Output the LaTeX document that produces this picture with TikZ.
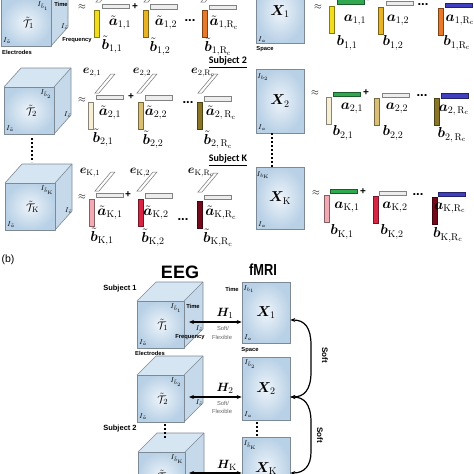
\documentclass[tikz,border=0pt]{standalone}
\usepackage{amsmath}
\usepackage{bm}
\usepackage{fontspec}
\newfontfamily\arial{Liberation Sans}
\newfontfamily\arialn[FakeStretch=0.8]{Liberation Sans}
\newfontfamily\calib{Carlito}
\usetikzlibrary{arrows.meta}
\definecolor{cin}{HTML}{EEF4FA}
\definecolor{cout}{HTML}{B9D1E6}
\definecolor{cside}{HTML}{C6D9EA}
\definecolor{ctop}{HTML}{D6E5F2}
\definecolor{cedge}{HTML}{7D8A96}
\definecolor{barw}{HTML}{EDEDED}
\definecolor{cy}{HTML}{F2DC1E}
\definecolor{cgold}{HTML}{E6B426}
\definecolor{corange}{HTML}{E8782A}
\definecolor{cgreen}{HTML}{2FA84F}
\definecolor{cblue}{HTML}{3F3FBF}
\definecolor{ccream}{HTML}{F6EFD6}
\definecolor{clgold}{HTML}{D9C074}
\definecolor{colive}{HTML}{8A7426}
\definecolor{cpink}{HTML}{F2AAB4}
\definecolor{ccrimson}{HTML}{D92544}
\definecolor{cmaroon}{HTML}{720A1C}
\tikzset{
  lbl/.style={inner sep=0pt, font=\fontsize{14}{14}\selectfont},
  elbl/.style={inner sep=0pt, font=\fontsize{12}{12}\selectfont},
  ilbl/.style={inner sep=0pt, font=\fontsize{7}{7}\selectfont},
  tlbl/.style={inner sep=0pt, font=\fontsize{11}{11}\selectfont},
  smlbl/.style={inner sep=0pt, font=\arial\bfseries\fontsize{5.8}{6}\selectfont},
  softlbl/.style={inner sep=0pt, font=\arial\fontsize{5.8}{6}\selectfont, text=black!60},
  subjlbl/.style={inner sep=0pt, font=\calib\bfseries\fontsize{10}{10}\selectfont},
  subjb/.style={inner sep=0pt, font=\arial\bfseries\fontsize{7.5}{8}\selectfont},
  approx/.style={inner sep=0pt, font=\fontsize{10}{10}\selectfont},
  plus/.style={inner sep=0pt, font=\arial\bfseries\fontsize{10}{10}\selectfont},
  dots/.style={inner sep=0pt, font=\arial\bfseries\fontsize{13}{13}\selectfont},
  cubeedge/.style={draw=cedge, line width=0.6pt, line join=round},
  matbox/.style={draw=cedge, line width=0.6pt, inner color=cin, outer color=cout,
    minimum width=48pt, inner sep=0pt, font=\fontsize{14}{14}\selectfont},
  dotline/.style={line width=2pt, dash pattern=on 2pt off 2pt},
  harrow/.style={line width=1.1pt, {Stealth[length=5pt,width=4pt]}-{Stealth[length=5pt,width=4pt]}},
  bracearrow/.style={line width=1.2pt, {Stealth[length=5pt,width=4pt]}-{Stealth[length=5pt,width=4pt]}},
}
% cube: #1 x, #2 y of front top-left, #3 width, #4 depth dx, #5 index
\newcommand\eegcube[5]{%
  \fill[ctop] (#1,#2) -- ++(#4,-19) -- ++(#3,0) -- ++(-#4,19) -- cycle;
  \fill[cside] ({#1+#3},#2) -- ++(#4,-19) -- ++(0,47) -- ++(-#4,19) -- cycle;
  \shade[inner color=cin, outer color=cout] (#1,#2) rectangle ++(#3,47);
  \draw[cubeedge] (#1,#2) rectangle ++(#3,47);
  \draw[cubeedge] (#1,#2) -- ++(#4,-19) -- ++(#3,0) -- ++(0,47) -- ++(-#4,19);
  \draw[cubeedge] ({#1+#3},#2) -- ++(#4,-19);
  \node[ilbl] at ({#1+#3-8},{#2+7}) {$I_{\tilde{b}_{#5}}$};
  \node[tlbl] at ({#1+#3*0.55},{#2+24}) {$\tilde{\mathcal{T}}_{#5}$};
  \node[ilbl] at ({#1+#3+#4*0.8},{#2+28}) {$I_{\tilde{c}}$};
  \node[ilbl, anchor=west] at ({#1+2},{#2+42}) {$I_{\tilde{a}}$};
}
\newcommand\hbarr[3]{\filldraw[fill=#3, draw=#3!55!black, line width=0.5pt] (#1,#2) rectangle ++(27,4.5);}
\newcommand\vbarr[3]{\filldraw[fill=#3, draw=#3!55!black, line width=0.5pt] (#1,#2) rectangle ++(5,27);}
\newcommand\ebarr[2]{\filldraw[fill=white, draw=black!55, line width=0.5pt] (#1,#2) -- ++(4,0) -- ++(16,-19) -- ++(-4,0) -- cycle;}
\begin{document}
\begin{tikzpicture}[x=1pt,y=-1pt]
\useasboundingbox (0,0) rectangle (474,474);
\clip (0,0) rectangle (474,474);
\fill[white] (0,0) rectangle (474,474);

% ================= (a) =================
% cubes
\eegcube{1}{-1}{50}{17}{1}
\eegcube{4}{87}{50}{17}{2}
\eegcube{5}{183}{50}{17}{\mathrm{K}}
\node[smlbl] at (61,4) {Time};
\node[smlbl] at (77,40) {Frequency};
\node[smlbl] at (17,52) {Electrodes};
\draw[dotline] (32,138) -- (32,162);

% row 1 left
\node[approx] at (82,7) {$\approx$};
\ebarr{96}{2} \ebarr{144}{2} \ebarr{201}{2}
\hbarr{102}{4}{barw} \vbarr{94}{10}{cy}
\hbarr{150}{4.5}{barw} \vbarr{143}{10}{cgold}
\hbarr{209}{5}{barw} \vbarr{202}{10}{corange}
\node[plus] at (135,7) {+};
\node[dots] at (190,21) {...};
\node[lbl] at (120,23) {$\tilde{\bm{a}}_{1,1}$};
\node[lbl] at (166,23) {$\tilde{\bm{a}}_{1,2}$};
\node[lbl] at (224,23) {$\tilde{\bm{a}}_{1,\mathrm{R_c}}$};
\node[lbl] at (112,45) {$\tilde{\bm{b}}_{1,1}$};
\node[lbl] at (160,47) {$\tilde{\bm{b}}_{1,2}$};
\node[lbl] at (218,47) {$\tilde{\bm{b}}_{1,\mathrm{R_c}}$};

% row 1 right
\node[matbox, minimum height=63pt] (X1) at (280,11.5) {$\bm{X}_1$};
\node[ilbl, anchor=west] at (258,40) {$I_{a}$};
\node[smlbl] at (265,49) {Space};
\node[approx] at (318,7) {$\approx$};
\hbarr{337}{-0.5}{cgreen} \vbarr{329}{6}{cy}
\hbarr{386}{1}{barw} \vbarr{378}{7}{cgold}
\hbarr{445}{3}{cblue} \vbarr{438}{8}{corange}
\node[plus] at (368,-1) {+};
\node[dots] at (423,5) {...};
\node[lbl] at (355,20) {$\bm{a}_{1,1}$};
\node[lbl] at (398,20) {$\bm{a}_{1,2}$};
\node[lbl] at (460,20) {$\bm{a}_{1,\mathrm{R_c}}$};
\node[lbl] at (347,43) {$\bm{b}_{1,1}$};
\node[lbl] at (393,43) {$\bm{b}_{1,2}$};
\node[lbl] at (457,43) {$\bm{b}_{1,\mathrm{R_c}}$};

\node[subjlbl] at (228,62) {\underline{Subject 2}};

% row 2 left
\node[approx] at (82,100) {$\approx$};
\ebarr{95}{93} \ebarr{137}{93} \ebarr{198}{93}
\node[elbl] at (92,73) {$\bm{e}_{2,1}$};
\node[elbl] at (142,73) {$\bm{e}_{2,2}$};
\node[elbl] at (203,73) {$\bm{e}_{2,\mathrm{R_c}}$};
\hbarr{96}{95}{barw} \vbarr{88}{102}{ccream}
\hbarr{145}{95.5}{barw} \vbarr{138}{102}{clgold}
\hbarr{204}{96.5}{barw} \vbarr{197}{102}{colive}
\node[plus] at (131,97) {+};
\node[dots] at (188,103) {...};
\node[lbl] at (110,113) {$\tilde{\bm{a}}_{2,1}$};
\node[lbl] at (156,113) {$\tilde{\bm{a}}_{2,2}$};
\node[lbl] at (221,113) {$\tilde{\bm{a}}_{2,\,\mathrm{R_c}}$};
\node[lbl] at (103,138) {$\tilde{\bm{b}}_{2,1}$};
\node[lbl] at (153,140) {$\tilde{\bm{b}}_{2,2}$};
\node[lbl] at (218,140) {$\tilde{\bm{b}}_{2,\,\mathrm{R_c}}$};

% row 2 right
\node[matbox, minimum height=64pt] (X2) at (280,101) {$\bm{X}_2$};
\node[ilbl] at (263,77) {$I_{b_2}$};
\node[ilbl, anchor=west] at (258,128) {$I_{a}$};
\draw[dotline] (X2.south -| 272,0) -- (272,167);
\node[approx] at (315,93) {$\approx$};
\hbarr{333}{92}{cgreen} \vbarr{326}{97}{ccream}
\hbarr{382}{93}{barw} \vbarr{374}{98}{clgold}
\hbarr{441}{93.5}{cblue} \vbarr{434}{98}{colive}
\node[plus] at (366,93) {+};
\node[dots] at (422,96) {...};
\node[lbl] at (352,108) {$\bm{a}_{2,1}$};
\node[lbl] at (397,108) {$\bm{a}_{2,2}$};
\node[lbl] at (454,110) {$\bm{a}_{2,\,\mathrm{R_c}}$};
\node[lbl] at (343,133) {$\bm{b}_{2,1}$};
\node[lbl] at (393,133) {$\bm{b}_{2,2}$};
\node[lbl] at (452,135) {$\bm{b}_{2,\,\mathrm{R_c}}$};

\node[subjlbl] at (228,160) {\underline{Subject K}};

% row K left
\node[approx] at (82,197) {$\approx$};
\ebarr{95}{191} \ebarr{137}{191} \ebarr{198}{192}
\node[elbl] at (90,173) {$\bm{e}_{\mathrm{K},1}$};
\node[elbl] at (140,173) {$\bm{e}_{\mathrm{K},2}$};
\node[elbl] at (201,173) {$\bm{e}_{\mathrm{K},\mathrm{R_c}}$};
\hbarr{96}{193}{barw} \vbarr{89}{199}{cpink}
\hbarr{145}{193.5}{barw} \vbarr{138}{199}{ccrimson}
\hbarr{204}{195}{barw} \vbarr{197}{201}{cmaroon}
\node[plus] at (128,195) {+};
\node[dots] at (183,220) {...};
\node[lbl] at (110,213) {$\tilde{\bm{a}}_{\mathrm{K},1}$};
\node[lbl] at (156,213) {$\tilde{\bm{a}}_{\mathrm{K},2}$};
\node[lbl] at (221,213) {$\tilde{\bm{a}}_{\mathrm{K},\mathrm{R_c}}$};
\node[lbl] at (102,237) {$\tilde{\bm{b}}_{\mathrm{K},1}$};
\node[lbl] at (153,238) {$\tilde{\bm{b}}_{\mathrm{K},2}$};
\node[lbl] at (218,238) {$\tilde{\bm{b}}_{\mathrm{K},\mathrm{R_c}}$};

% row K right
\node[matbox, minimum height=62pt] (XK) at (280,198) {$\bm{X}_{\mathrm{K}}$};
\node[ilbl] at (263,175) {$I_{b_{\mathrm{K}}}$};
\node[ilbl, anchor=west] at (258,225) {$I_{a}$};
\node[approx] at (316,193) {$\approx$};
\hbarr{330}{189}{cgreen} \vbarr{324}{195}{cpink}
\hbarr{379}{191}{barw} \vbarr{373}{196}{ccrimson}
\hbarr{438}{192}{cblue} \vbarr{432}{197}{cmaroon}
\node[plus] at (363,192) {+};
\node[dots] at (418,195) {...};
\node[lbl] at (347,207) {$\bm{a}_{\mathrm{K},1}$};
\node[lbl] at (395,207) {$\bm{a}_{\mathrm{K},2}$};
\node[lbl] at (450,208) {$\bm{a}_{\mathrm{K},\mathrm{R_c}}$};
\node[lbl] at (342,232) {$\bm{b}_{\mathrm{K},1}$};
\node[lbl] at (392,232) {$\bm{b}_{\mathrm{K},2}$};
\node[lbl] at (448,235) {$\bm{b}_{\mathrm{K},\mathrm{R_c}}$};

% ================= (b) =================
\node[inner sep=0pt, font=\arial\fontsize{10.5}{11}\selectfont] at (8,260) {(b)};
\node[inner sep=0pt, font=\arial\bfseries\fontsize{18}{18}\selectfont] at (180,272) {EEG};
\node[inner sep=0pt, font=\arialn\bfseries\fontsize{16}{16}\selectfont] at (263,270) {fMRI};
\node[subjb] at (120,289) {Subject 1};
\node[subjb] at (120,429) {Subject 2};

\eegcube{137}{301}{47}{19}{1}
\eegcube{137}{375}{47}{19}{2}
\eegcube{138}{452}{47}{19}{\mathrm{K}}
\node[smlbl] at (193,306) {Time};
\node[smlbl] at (190,337) {Frequency};
\node[smlbl] at (150,353) {Electrodes};
\draw[dotline] (165,424) -- (165,438);

\node[matbox, minimum height=61pt] (X1b) at (266,312.5) {$\bm{X}_1$};
\node[matbox, minimum height=63pt] (X2b) at (266,388.5) {$\bm{X}_2$};
\node[matbox, minimum height=63pt] (XKb) at (266,468.5) {$\bm{X}_{\mathrm{K}}$};
\node[smlbl] at (232,289) {Time};
\node[ilbl] at (249,289) {$I_{b_1}$};
\node[ilbl, anchor=west] at (244,338) {$I_{a}$};
\node[smlbl] at (250,350) {Space};
\node[ilbl] at (250,364) {$I_{\tilde{b}_2}$};
\node[ilbl, anchor=west] at (244,415) {$I_{a}$};
\node[ilbl] at (250,445) {$I_{\tilde{b}_{\mathrm{K}}}$};
\draw[dotline] (257,422) -- (257,437);

\coordinate (h1) at (189,322);
\coordinate (h2) at (189,397);
\coordinate (hK) at (189,473);
\draw[harrow] (h1) -- (h1 -| X1b.west);
\draw[harrow] (h2) -- (h2 -| X2b.west);
\draw[harrow] (hK) -- (hK -| XKb.west);
\node[inner sep=0pt, font=\fontsize{13}{13}\selectfont] at (225,313) {$\bm{H}_1$};
\node[inner sep=0pt, font=\fontsize{13}{13}\selectfont] at (225,388) {$\bm{H}_2$};
\node[inner sep=0pt, font=\fontsize{13}{13}\selectfont] at (227,465) {$\bm{H}_{\mathrm{K}}$};
\node[softlbl] at (223,328) {Soft/};
\node[softlbl] at (222,337) {Flexible};
\node[softlbl] at (223,403) {Soft/};
\node[softlbl] at (222,411) {Flexible};

\draw[bracearrow] ([yshift=-7.5pt]X1b.east) .. controls (305,320) and (311,328) .. (311,345)
  -- (311,372) .. controls (311,390) and (304,397) .. ([yshift=-8.5pt]X2b.east);
\draw[bracearrow] ([yshift=-8.5pt]X2b.east) .. controls (304,397) and (311,404) .. (311,422)
  -- (311,452) .. controls (311,466) and (304,473) .. ([yshift=-4.5pt]XKb.east);
\node[inner sep=0pt, rotate=-90, font=\arial\bfseries\fontsize{8}{8}\selectfont] at (325,355) {Soft};
\node[inner sep=0pt, rotate=-90, font=\arial\bfseries\fontsize{8}{8}\selectfont] at (320,435) {Soft};
\end{tikzpicture}
\end{document}
